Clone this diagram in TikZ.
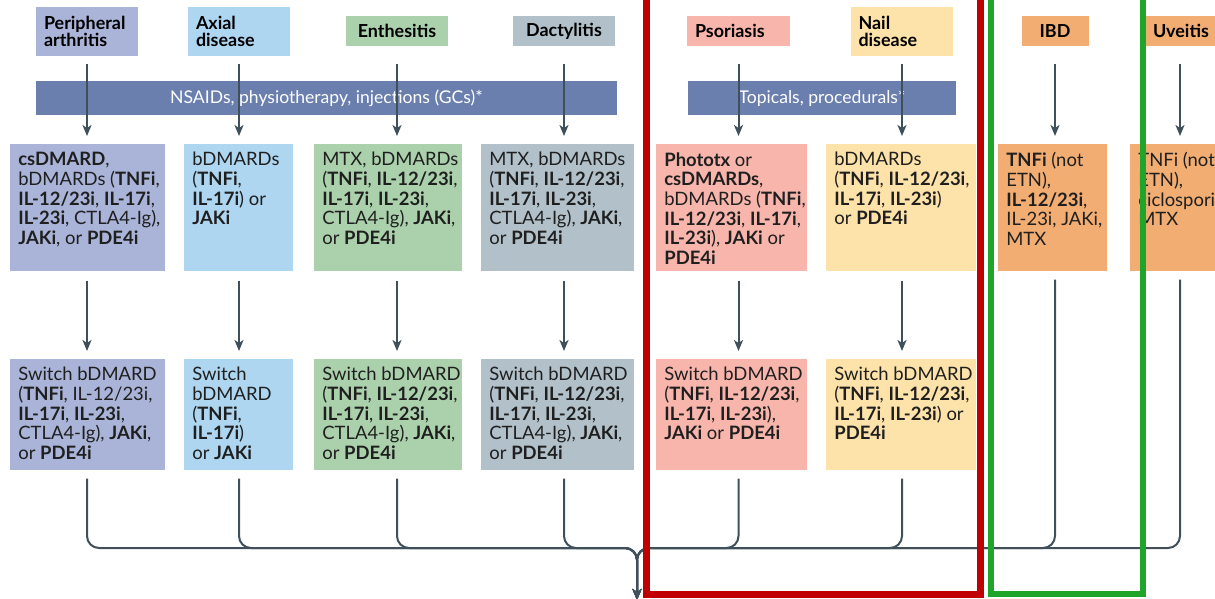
\documentclass[tikz,border=0pt]{standalone}
\usepackage{fontspec}
\setmainfont{Lato}
\usetikzlibrary{arrows.meta}

\definecolor{perColor}{HTML}{AAB4D8}
\definecolor{axColor}{HTML}{AED6F1}
\definecolor{entColor}{HTML}{ABD1AC}
\definecolor{dacColor}{HTML}{B2C1C9}
\definecolor{psoColor}{HTML}{F8B5AC}
\definecolor{nailColor}{HTML}{FDE2A9}
\definecolor{ibdColor}{HTML}{F2AD72}
\definecolor{barColor}{HTML}{6B7FAF}
\definecolor{lineColor}{HTML}{40505B}
\definecolor{redFrame}{HTML}{C00000}
\definecolor{greenFrame}{HTML}{20A52B}

\tikzset{
  head/.style={font=\fontsize{10.2}{9.7}\selectfont\bfseries, align=left, inner xsep=0.16cm, minimum height=0.6cm},
  bar/.style={fill=barColor, text=white, font=\fontsize{10}{12}\selectfont, minimum height=0.68cm},
  celltext/.style={anchor=north west, align=left, inner xsep=0.16cm, inner ysep=0.16cm, font=\fontsize{10.5}{11.2}\selectfont, text=black!88},
  mid/.style={anchor=north west, inner sep=0pt, minimum height=2.54cm},
  low/.style={anchor=north west, inner sep=0pt, minimum height=2.22cm},
  flow/.style={draw=lineColor, line width=0.04cm, -{Stealth[length=0.22cm,width=0.18cm,inset=0.06cm]}, shorten >=0.16cm},
  link/.style={draw=lineColor, line width=0.04cm, rounded corners=0.24cm, -{Stealth[length=0.22cm,width=0.18cm,inset=0.06cm]}, shorten <=0.16cm},
}

\begin{document}
\begin{tikzpicture}[x=0.02cm, y=-0.02cm]
  \clip (0,0) rectangle (1215,599);

  % Manifestaciones
  \node[head, fill=perColor, text width=1.72cm, minimum height=0.98cm] (h1) at (87,31.5) {Peripheral\\arthritis};
  \node[head, fill=axColor, text width=1.72cm, minimum height=0.98cm] (h2) at (239,31.5) {Axial\\disease};
  \node[head, fill=entColor, text width=1.74cm, align=center] (h3) at (397,31) {Enthesitis};
  \node[head, fill=dacColor, text width=1.72cm, align=center] (h4) at (564,31) {Dactylitis};
  \node[head, fill=psoColor, text width=1.74cm] (h5) at (738.5,31) {Psoriasis};
  \node[head, fill=nailColor, text width=1.74cm, minimum height=0.98cm] (h6) at (902,31.5) {Nail\\disease};
  \node[head, fill=ibdColor, text width=1.02cm, align=center] (h7) at (1055,31) {IBD};
  \node[head, fill=ibdColor, text width=1.08cm] (h8) at (1180,31) {Uveitis};

  % Barras
  \node[bar, minimum width=11.62cm] (nsaid) at (326.5,98) {NSAIDs, physiotherapy, injections (GCs)*};
  \node[bar, minimum width=5.36cm] (topic) at (822,98) {Topicals, procedurals*};

  % Primera linea
  \node[mid, fill=perColor, minimum width=3.10cm, label={[celltext]north west:{\textbf{csDMARD},\\ bDMARDs (\textbf{TNFi},\\ \textbf{IL-12/23i}, \textbf{IL-17i},\\ \textbf{IL-23i}, CTLA4-Ig),\\ \textbf{JAKi}, or \textbf{PDE4i}}}] (m1) at (10,144) {};
  \node[mid, fill=axColor, minimum width=2.18cm, label={[celltext]north west:{bDMARDs\\ (\textbf{TNFi},\\ \textbf{IL-17i}) or\\ \textbf{JAKi}}}] (m2) at (184,144) {};
  \node[mid, fill=entColor, minimum width=2.96cm, label={[celltext]north west:{MTX, bDMARDs\\ (\textbf{TNFi}, \textbf{IL-12/23i},\\ \textbf{IL-17i}, \textbf{IL-23i},\\ CTLA4-Ig), \textbf{JAKi},\\ or \textbf{PDE4i}}}] (m3) at (314,144) {};
  \node[mid, fill=dacColor, minimum width=3.06cm, label={[celltext]north west:{MTX, bDMARDs\\ (\textbf{TNFi}, \textbf{IL-12/23i},\\ \textbf{IL-17i}, \textbf{IL-23i},\\ CTLA4-Ig), \textbf{JAKi},\\ or \textbf{PDE4i}}}] (m4) at (481,144) {};
  \node[mid, fill=psoColor, minimum width=3.02cm, label={[celltext]north west:{\textbf{Phototx} or\\ \textbf{csDMARDs},\\ bDMARDs (\textbf{TNFi},\\ \textbf{IL-12/23i}, \textbf{IL-17i},\\ \textbf{IL-23i}), \textbf{JAKi} or\\ \textbf{PDE4i}}}] (m5) at (656,144) {};
  \node[mid, fill=nailColor, minimum width=3.00cm, label={[celltext]north west:{bDMARDs\\ (\textbf{TNFi}, \textbf{IL-12/23i},\\ \textbf{IL-17i}, \textbf{IL-23i})\\ or \textbf{PDE4i}}}] (m6) at (826,144) {};
  \node[mid, fill=ibdColor, minimum width=2.18cm, label={[celltext]north west:{\textbf{TNFi} (not\\ ETN),\\ \textbf{IL-12/23i},\\ IL-23i, JAKi,\\ MTX}}] (m7) at (998,144) {};
  \node[mid, fill=ibdColor, minimum width=2.20cm, label={[celltext]north west:{TNFi (not\\ ETN),\\ ciclosporin\\ MTX}}] (m8) at (1130,144) {};

  % Segunda linea
  \node[low, fill=perColor, minimum width=3.10cm, label={[celltext]north west:{Switch bDMARD\\ (\textbf{TNFi}, IL-12/23i,\\ \textbf{IL-17i}, \textbf{IL-23i},\\ CTLA4-Ig), \textbf{JAKi},\\ or \textbf{PDE4i}}}] (b1) at (10,359) {};
  \node[low, fill=axColor, minimum width=2.18cm, label={[celltext]north west:{Switch\\ bDMARD\\ (\textbf{TNFi},\\ \textbf{IL-17i})\\ or \textbf{JAKi}}}] (b2) at (184,359) {};
  \node[low, fill=entColor, minimum width=2.96cm, label={[celltext]north west:{Switch bDMARD\\ (\textbf{TNFi}, \textbf{IL-12/23i},\\ \textbf{IL-17i}, \textbf{IL-23i},\\ CTLA4-Ig), \textbf{JAKi},\\ or \textbf{PDE4i}}}] (b3) at (314,359) {};
  \node[low, fill=dacColor, minimum width=3.06cm, label={[celltext]north west:{Switch bDMARD\\ (\textbf{TNFi}, \textbf{IL-12/23i},\\ \textbf{IL-17i}, \textbf{IL-23i},\\ CTLA4-Ig), \textbf{JAKi},\\ or \textbf{PDE4i}}}] (b4) at (481,359) {};
  \node[low, fill=psoColor, minimum width=3.02cm, label={[celltext]north west:{Switch bDMARD\\ (\textbf{TNFi}, \textbf{IL-12/23i},\\ \textbf{IL-17i}, \textbf{IL-23i}),\\ \textbf{JAKi} or \textbf{PDE4i}}}] (b5) at (656,359) {};
  \node[low, fill=nailColor, minimum width=3.00cm, label={[celltext]north west:{Switch bDMARD\\ (\textbf{TNFi}, \textbf{IL-12/23i},\\ \textbf{IL-17i}, \textbf{IL-23i}) or\\ \textbf{PDE4i}}}] (b6) at (826,359) {};

  % Flechas
  \coordinate (lvl1) at (0,64);
  \draw[flow] (h1 |- lvl1) -- (h1 |- m1.north);
  \draw[flow] (h2 |- lvl1) -- (h2 |- m2.north);
  \draw[flow] (h3 |- lvl1) -- (h3 |- m3.north);
  \draw[flow] (h4 |- lvl1) -- (h4 |- m4.north);
  \draw[flow] (h5 |- lvl1) -- (h5 |- m5.north);
  \draw[flow] (h6 |- lvl1) -- (h6 |- m6.north);
  \draw[flow] (h7 |- lvl1) -- (h7 |- m7.north);
  \draw[flow] (h8 |- lvl1) -- (h8 |- m8.north);

  \draw[flow, shorten <=0.18cm] (h1 |- m1.south) -- (h1 |- b1.north);
  \draw[flow, shorten <=0.18cm] (h2 |- m2.south) -- (h2 |- b2.north);
  \draw[flow, shorten <=0.18cm] (h3 |- m3.south) -- (h3 |- b3.north);
  \draw[flow, shorten <=0.18cm] (h4 |- m4.south) -- (h4 |- b4.north);
  \draw[flow, shorten <=0.18cm] (h5 |- m5.south) -- (h5 |- b5.north);
  \draw[flow, shorten <=0.18cm] (h6 |- m6.south) -- (h6 |- b6.north);

  % Union
  \coordinate (hub) at (637,548);
  \coordinate (exit) at (637,600);
  \draw[link] (h1 |- b1.south) |- (hub) -- (exit);
  \draw[link] (h2 |- b2.south) |- (hub) -- (exit);
  \draw[link] (h3 |- b3.south) |- (hub) -- (exit);
  \draw[link] (h4 |- b4.south) |- (hub) -- (exit);
  \draw[link] (h5 |- b5.south) |- (hub) -- (exit);
  \draw[link] (h6 |- b6.south) |- (hub) -- (exit);
  \draw[link] (h7 |- m7.south) |- (hub) -- (exit);
  \draw[link] (h8 |- m8.south) |- (hub) -- (exit);

  % Marcos
  \draw[redFrame, line width=0.14cm] (646,-20) rectangle (980.5,594.5);
  \draw[greenFrame, line width=0.12cm] (991,-20) rectangle (1143,594);
\end{tikzpicture}
\end{document}
